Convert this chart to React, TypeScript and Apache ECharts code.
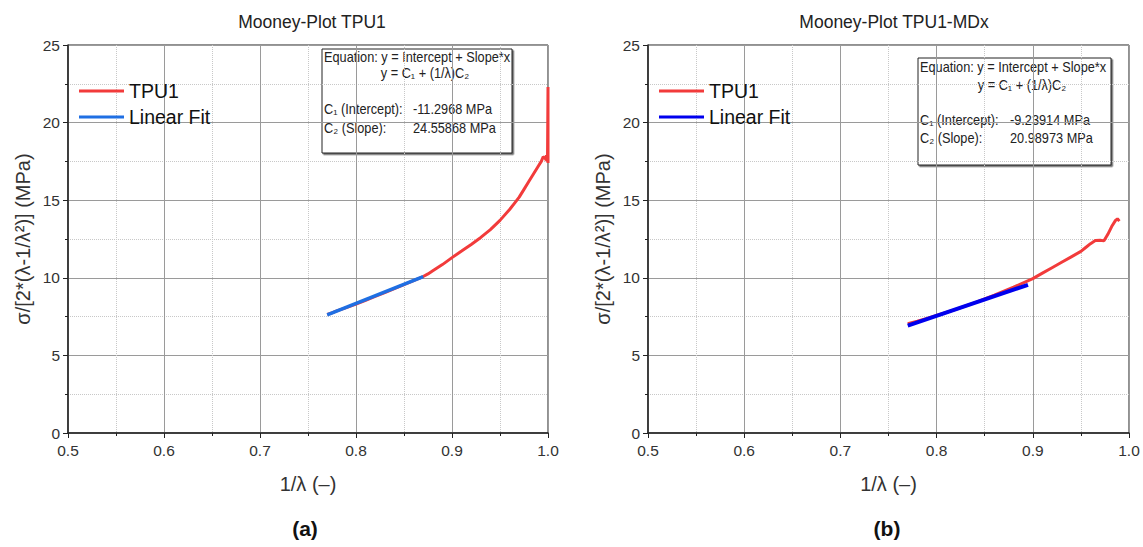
import React, { useEffect, useRef } from "react";
import * as echarts from "echarts";

const xTickLabels = ["0.5", "0.6", "0.7", "0.8", "0.9", "1.0"];
const yTickLabels = ["0", "5", "10", "15", "20", "25"];

// Plot (a): TPU1
const tpuAX = [0.77, 0.775, 0.78, 0.79, 0.8, 0.81, 0.82, 0.83, 0.84, 0.85, 0.86, 0.87, 0.875, 0.88, 0.89, 0.9, 0.91, 0.92, 0.93, 0.94, 0.95, 0.96, 0.965, 0.97, 0.975, 0.98, 0.985, 0.99, 0.993, 0.995, 0.997, 0.998, 0.9985, 0.999, 0.9995, 1.0, 1.0];
const tpuAY = [7.64, 7.74, 7.87, 8.08, 8.3, 8.55, 8.8, 9.05, 9.3, 9.56, 9.82, 10.08, 10.25, 10.45, 10.85, 11.3, 11.72, 12.15, 12.6, 13.1, 13.7, 14.4, 14.8, 15.2, 15.7, 16.2, 16.7, 17.2, 17.5, 17.8, 17.7, 17.6, 17.9, 17.5, 17.8, 22.3, 17.4];
const fitAX = [0.77, 0.87];
const fitAY = [7.61, 10.07];

// Plot (b): TPU1-MDx
const tpuBX = [0.77, 0.78, 0.79, 0.8, 0.82, 0.84, 0.86, 0.88, 0.9, 0.91, 0.92, 0.93, 0.94, 0.95, 0.955, 0.96, 0.965, 0.97, 0.974, 0.978, 0.982, 0.986, 0.988, 0.99];
const tpuBY = [7.05, 7.2, 7.38, 7.57, 7.97, 8.4, 8.88, 9.4, 9.95, 10.3, 10.65, 11.0, 11.35, 11.7, 11.95, 12.2, 12.4, 12.42, 12.38, 12.8, 13.3, 13.7, 13.8, 13.65];
const fitBX = [0.77, 0.895];
const fitBY = [6.92, 9.55];

const titles = ["Mooney-Plot TPU1", "Mooney-Plot TPU1-MDx"];
const panelLabels = ["(a)", "(b)"];
const eqA = ["Equation: y = Intercept + Slope*x", "y = C\u2081 + (1/\u03bb)C\u2082", "C\u2081 (Intercept):", "-11.2968 MPa", "C\u2082 (Slope):", "24.55868 MPa"];
const eqB = ["Equation: y = Intercept + Slope*x", "y = C\u2081 + (1/\u03bb)C\u2082", "C\u2081 (Intercept):", "-9.23914 MPa", "C\u2082 (Slope):", "20.98973 MPa"];

const RED = "#f23b3b";
const BLUE_A = "#1f6fe3";
const BLUE_B = "#0000ee";
const FONT = "Liberation Sans, Arial, sans-serif";

const zip = (xs: number[], ys: number[]) => xs.map((x, i) => [x, ys[i]]);

function makeX(gridIndex: number) {
  return {
    type: "value",
    gridIndex,
    min: 0.5,
    max: 1.0,
    interval: 0.1,
    name: "1/\u03bb (\u2013)",
    nameLocation: "middle",
    nameGap: 41,
    nameTextStyle: { fontSize: 20, color: "#333", fontFamily: FONT },
    axisLine: { show: true, onZero: false, lineStyle: { color: "#222", width: 1.5 } },
    axisTick: { show: true, inside: false, length: 5, lineStyle: { color: "#222" } },
    minorTick: { show: true, splitNumber: 2, length: 3, lineStyle: { color: "#222" } },
    axisLabel: { fontSize: 15.5, color: "#333", margin: 9, fontFamily: FONT, formatter: (v: number) => xTickLabels[Math.round((v - 0.5) * 10)] ?? "" },
    splitLine: { show: true, lineStyle: { color: "#9a9a9a", width: 1 } },
    minorSplitLine: { show: true, lineStyle: { color: "#c8c8c8", type: "dotted", width: 1 } },
  };
}

function makeY(gridIndex: number) {
  return {
    type: "value",
    gridIndex,
    min: 0,
    max: 25,
    interval: 5,
    name: "\u03c3/[2*(\u03bb-1/\u03bb\u00b2)] (MPa)",
    nameLocation: "middle",
    nameGap: 35,
    nameRotate: 90,
    nameTextStyle: { fontSize: 20, color: "#333", fontFamily: FONT },
    axisLine: { show: true, onZero: false, lineStyle: { color: "#222", width: 1.5 } },
    axisTick: { show: true, inside: false, length: 5, lineStyle: { color: "#222" } },
    minorTick: { show: true, splitNumber: 2, length: 3, lineStyle: { color: "#222" } },
    axisLabel: { fontSize: 15.5, color: "#333", margin: 8, fontFamily: FONT, formatter: (v: number) => yTickLabels[Math.round(v / 5)] ?? "" },
    splitLine: { show: true, lineStyle: { color: "#9a9a9a", width: 1 } },
    minorSplitLine: { show: true, lineStyle: { color: "#c8c8c8", type: "dotted", width: 1 } },
  };
}

function eqBox(lines: string[], x: number, y: number, w: number, h: number, ys: number[], centerX: number, valX: number) {
  const ts = { fontSize: 14, fill: "#222", fontFamily: FONT };
  const sx = 0.91;
  return {
    type: "group",
    children: [
      { type: "rect", shape: { x, y, width: w, height: h }, style: { fill: "#fff", stroke: "#222", lineWidth: 1, shadowColor: "rgba(0,0,0,0.6)", shadowOffsetX: 1.5, shadowOffsetY: 1.5, shadowBlur: 0 } },
      { type: "text", x: x + 2, y: ys[0], scaleX: sx, style: { ...ts, text: lines[0], textVerticalAlign: "middle" } },
      { type: "text", x: centerX, y: ys[1], scaleX: sx, style: { ...ts, text: lines[1], textAlign: "center", textVerticalAlign: "middle" } },
      { type: "text", x: x + 2, y: ys[2], scaleX: sx, style: { ...ts, text: lines[2], textVerticalAlign: "middle" } },
      { type: "text", x: valX, y: ys[2], scaleX: sx, style: { ...ts, text: lines[3], textVerticalAlign: "middle" } },
      { type: "text", x: x + 2, y: ys[3], scaleX: sx, style: { ...ts, text: lines[4], textVerticalAlign: "middle" } },
      { type: "text", x: valX, y: ys[3], scaleX: sx, style: { ...ts, text: lines[5], textVerticalAlign: "middle" } },
    ],
  };
}

export default function App() {
  const ref = useRef<HTMLDivElement>(null);
  useEffect(() => {
    if (!ref.current) return;
    const chart = echarts.init(ref.current, undefined, { renderer: "svg" });
    const legendCommon = {
      orient: "vertical",
      icon: "rect",
      itemWidth: 45,
      itemHeight: 3,
      itemGap: 6,
      textStyle: { fontSize: 19.5, color: "#111", fontFamily: FONT, lineHeight: 20 },
      selectedMode: false,
    };
    const titleStyle = { fontSize: 17.5, fontWeight: "normal", color: "#222", fontFamily: FONT };
    chart.setOption({
      animation: false,
      backgroundColor: "#fff",
      title: [
        { text: titles[0], left: 307, top: 8, textAlign: "center", textStyle: titleStyle },
        { text: titles[1], left: 889, top: 8, textAlign: "center", textStyle: titleStyle },
      ],
      grid: [
        { left: 68, width: 480, top: 45, height: 388, show: true, borderColor: "#222", borderWidth: 1, backgroundColor: "#fff" },
        { left: 648, width: 481, top: 45, height: 388, show: true, borderColor: "#222", borderWidth: 1, backgroundColor: "#fff" },
      ],
      xAxis: [makeX(0), makeX(1)],
      yAxis: [makeY(0), makeY(1)],
      legend: [
        { ...legendCommon, left: 74, top: 76, data: [{ name: "TPU1", itemStyle: { color: RED } }, { name: "Linear Fit", itemStyle: { color: BLUE_A } }] },
        { ...legendCommon, left: 654, top: 76, data: [{ name: "TPU1", itemStyle: { color: RED } }, { name: "Linear Fit", itemStyle: { color: BLUE_B } }] },
      ],
      series: [
        { name: "TPU1", type: "line", xAxisIndex: 0, yAxisIndex: 0, data: zip(tpuAX, tpuAY), showSymbol: false, lineStyle: { color: RED, width: 3 }, itemStyle: { color: RED }, z: 3 },
        { name: "Linear Fit", type: "line", xAxisIndex: 0, yAxisIndex: 0, data: zip(fitAX, fitAY), showSymbol: false, lineStyle: { color: BLUE_A, width: 3.5 }, itemStyle: { color: BLUE_A }, z: 4 },
        { name: "TPU1", type: "line", xAxisIndex: 1, yAxisIndex: 1, data: zip(tpuBX, tpuBY), showSymbol: false, lineStyle: { color: RED, width: 3 }, itemStyle: { color: RED }, z: 3 },
        { name: "Linear Fit", type: "line", xAxisIndex: 1, yAxisIndex: 1, data: zip(fitBX, fitBY), showSymbol: false, lineStyle: { color: BLUE_B, width: 4 }, itemStyle: { color: BLUE_B }, z: 4 },
      ],
      graphic: [
        eqBox(eqA, 322, 49, 190, 104, [57, 73, 109, 128], 425, 413),
        eqBox(eqB, 918, 58, 193, 107, [67, 85, 120, 138], 1022, 1010),
        { type: "text", x: 305, y: 528, style: { text: panelLabels[0], fontSize: 21, fontWeight: "bold", fill: "#111", fontFamily: FONT, textAlign: "center", textVerticalAlign: "middle" } },
        { type: "text", x: 887, y: 528, style: { text: panelLabels[1], fontSize: 21, fontWeight: "bold", fill: "#111", fontFamily: FONT, textAlign: "center", textVerticalAlign: "middle" } },
      ],
    });
    return () => chart.dispose();
  }, []);
  return <div ref={ref} style={{ position: "absolute", left: 0, top: 0, width: 1143, height: 547 }} />;
}
